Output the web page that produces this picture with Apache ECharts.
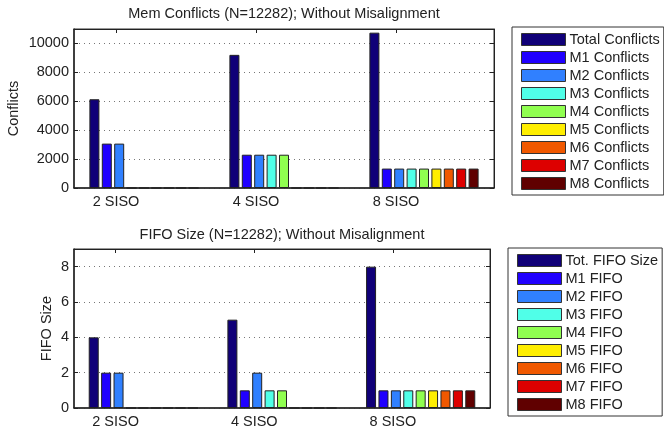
<!DOCTYPE html>
<html>
<head>
<meta charset="utf-8">
<script src="https://cdn.jsdelivr.net/npm/echarts@6/dist/echarts.min.js"></script>
<style>
html, body { margin: 0; padding: 0; background: #fff; }
#main { width: 664px; height: 431px; }
</style>
</head>
<body>
<div id="main"></div>
<script>
var categories = ['2 SISO', '4 SISO', '8 SISO'];
var catTickPos = [0.8, 1.8, 2.8];

var conflictNames = ['Total Conflicts', 'M1 Conflicts', 'M2 Conflicts', 'M3 Conflicts', 'M4 Conflicts',
  'M5 Conflicts', 'M6 Conflicts', 'M7 Conflicts', 'M8 Conflicts'];
var fifoNames = ['Tot. FIFO Size', 'M1 FIFO', 'M2 FIFO', 'M3 FIFO', 'M4 FIFO',
  'M5 FIFO', 'M6 FIFO', 'M7 FIFO', 'M8 FIFO'];

// one row per series, one value per category
var conflicts = [
  [6141, 9212, 10747],
  [3071, 2303, 1343],
  [3070, 2303, 1343],
  [0, 2303, 1343],
  [0, 2303, 1343],
  [0, 0, 1343],
  [0, 0, 1343],
  [0, 0, 1343],
  [0, 0, 1343]
];
var fifo = [
  [4, 5, 8],
  [2, 1, 1],
  [2, 2, 1],
  [0, 1, 1],
  [0, 1, 1],
  [0, 0, 1],
  [0, 0, 1],
  [0, 0, 1],
  [0, 0, 1]
];

var colors = ['#100078', '#2000ff', '#3080ff', '#50ffe8', '#90ff50', '#ffee00', '#f05800', '#dd0000', '#600000'];

var font = "'Liberation Sans', Arial, sans-serif";
var txt = '#222';
var fs = 14.5;

function xAxes(gi) {
  return [
    { type: 'category', gridIndex: gi, position: 'bottom', data: categories, show: false },
    {
      type: 'value', gridIndex: gi, position: 'bottom', min: 0.5, max: 3.5,
      axisLine: { show: true, onZero: false, lineStyle: { color: txt, width: 1.5 } },
      axisTick: { show: true, inside: true, length: 4, customValues: catTickPos, lineStyle: { color: txt } },
      axisLabel: {
        customValues: catTickPos, margin: 6, color: txt, fontSize: fs, fontFamily: font,
        formatter: function (v) { return categories[Math.round(v - 0.8)]; }
      },
      splitLine: { show: false }
    },
    {
      type: 'value', gridIndex: gi, position: 'top', min: 0.5, max: 3.5,
      axisLine: { show: true, onZero: false, lineStyle: { color: txt, width: 1 } },
      axisTick: { show: true, inside: true, length: 4, customValues: catTickPos, lineStyle: { color: txt } },
      axisLabel: { show: false },
      splitLine: { show: false }
    }
  ];
}

function yAxes(gi, max, interval, name, nameGap) {
  return [
    {
      type: 'value', gridIndex: gi, position: 'left', min: 0, max: max, interval: interval,
      name: name, nameLocation: 'middle', nameGap: nameGap, nameMoveOverlap: false,
      nameTextStyle: { color: txt, fontSize: fs, fontFamily: font },
      axisLine: { show: true, onZero: false, lineStyle: { color: txt, width: 1.5 } },
      axisTick: { show: true, inside: true, length: 4, lineStyle: { color: txt } },
      axisLabel: {
        showMaxLabel: false, margin: 5, color: txt, fontSize: fs, fontFamily: font,
        formatter: function (v) { return String(v); }
      },
      splitLine: { show: true, lineStyle: { color: '#777', width: 1, type: [1, 4] } }
    },
    {
      type: 'value', gridIndex: gi, position: 'right', min: 0, max: max, interval: interval,
      axisLine: { show: true, onZero: false, lineStyle: { color: txt, width: 1 } },
      axisTick: { show: true, inside: true, length: 4, lineStyle: { color: txt } },
      axisLabel: { show: false },
      splitLine: { show: false }
    }
  ];
}

function legend(names, left, top) {
  return {
    data: names, orient: 'vertical', left: left, top: top,
    padding: [5, 4, 4, 9], itemGap: 3, itemWidth: 44, itemHeight: 12,
    icon: 'rect', selectedMode: false,
    borderColor: '#333', borderWidth: 1,
    itemStyle: { borderColor: '#333', borderWidth: 1 },
    textStyle: { color: txt, fontSize: fs, fontFamily: font, lineHeight: 14.5, padding: [0, 0, 0, -1] }
  };
}

var series = [];
conflicts.forEach(function (row, i) {
  series.push({
    name: conflictNames[i], type: 'bar', xAxisIndex: 0, yAxisIndex: 0,
    data: row, barWidth: 10, barGap: '24%',
    itemStyle: { color: colors[i], borderColor: '#222', borderWidth: 1 }
  });
});
fifo.forEach(function (row, i) {
  series.push({
    name: fifoNames[i], type: 'bar', xAxisIndex: 3, yAxisIndex: 2,
    data: row, barWidth: 10, barGap: '24%',
    itemStyle: { color: colors[i], borderColor: '#222', borderWidth: 1 }
  });
});

var chart = echarts.init(document.getElementById('main'), null, { renderer: 'canvas' });
chart.setOption({
  animation: false,
  backgroundColor: '#fff',
  textStyle: { fontFamily: font },
  title: [
    { text: 'Mem Conflicts (N=12282); Without Misalignment', left: 284, top: 6, textAlign: 'center', padding: 0,
      textStyle: { color: txt, fontSize: fs, fontWeight: 'normal', fontFamily: font } },
    { text: 'FIFO Size (N=12282); Without Misalignment', left: 282, top: 227, textAlign: 'center', padding: 0,
      textStyle: { color: txt, fontSize: fs, fontWeight: 'normal', fontFamily: font } }
  ],
  legend: [legend(conflictNames, 512, 27), legend(fifoNames, 508, 248)],
  grid: [
    { left: 74, right: 170, top: 29, height: 159, outerBoundsMode: 'none', containLabel: false,
      show: true, borderColor: '#333', borderWidth: 1, backgroundColor: '#fff' },
    { left: 74, right: 174, top: 249, height: 159, outerBoundsMode: 'none', containLabel: false,
      show: true, borderColor: '#333', borderWidth: 1, backgroundColor: '#fff' }
  ],
  xAxis: xAxes(0).concat(xAxes(1)),
  yAxis: yAxes(0, 11000, 2000, 'Conflicts', 53).concat(yAxes(1, 9, 2, 'FIFO Size', 20)),
  series: series
});
</script>
</body>
</html>
